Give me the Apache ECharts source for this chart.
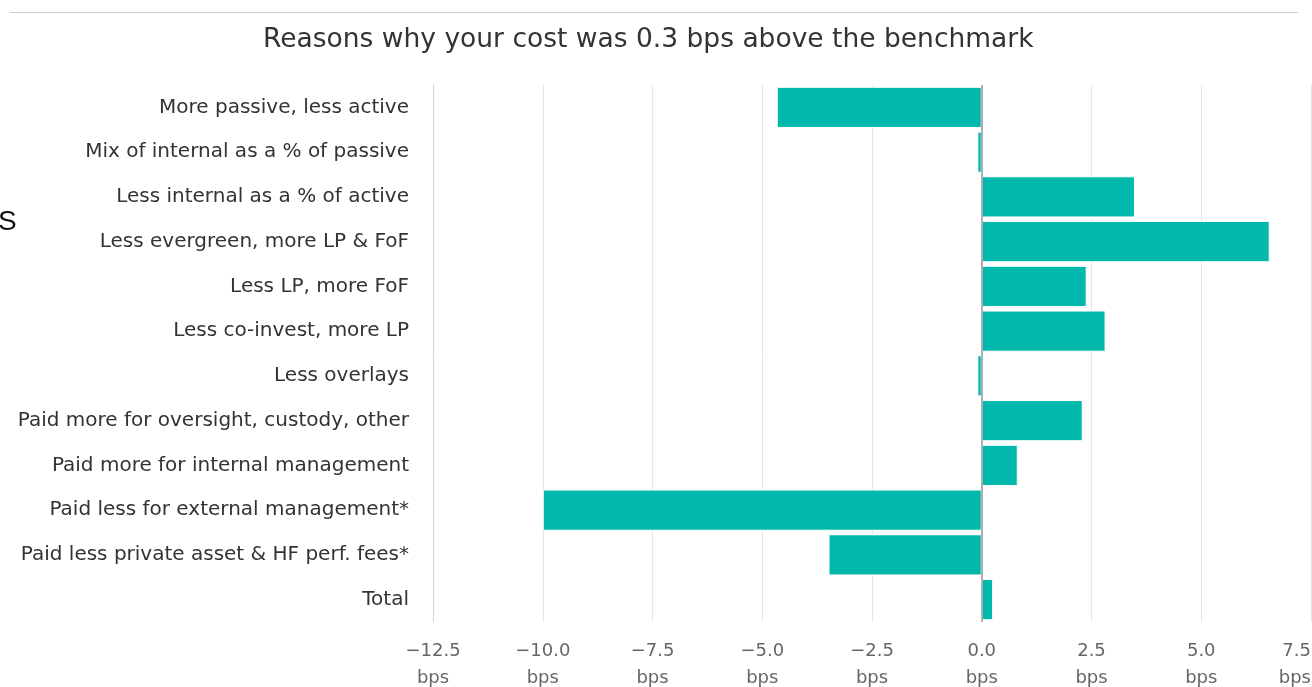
<!DOCTYPE html>
<html>
<head>
<meta charset="utf-8">
<script src="https://cdn.jsdelivr.net/npm/echarts@6/dist/echarts.min.js"></script>
<style>
html,body{margin:0;padding:0;background:#fff;}
#c{width:1312px;height:687px;}
</style>
</head>
<body>
<div id="c"></div>
<script>
const categories = [
  "More passive, less active",
  "Mix of internal as a % of passive",
  "Less internal as a % of active",
  "Less evergreen, more LP & FoF",
  "Less LP, more FoF",
  "Less co-invest, more LP",
  "Less overlays",
  "Paid more for oversight, custody, other",
  "Paid more for internal management",
  "Paid less for external management*",
  "Paid less private asset & HF perf. fees*",
  "Total"
];
const values = [-4.67, -0.1, 3.49, 6.56, 2.39, 2.82, -0.1, 2.30, 0.82, -10.0, -3.49, 0.26];
const titleText = "Reasons why your cost was 0.3 bps above the benchmark";
const axisUnit = "bps";

const chart = echarts.init(document.getElementById('c'), null, {renderer: 'canvas'});
const fontFam = "'DejaVu Sans', sans-serif";
chart.setOption({
  animation: false,
  backgroundColor: '#fff',
  title: {
    text: titleText,
    left: 263,
    top: 27,
    padding: 0,
    textStyle: {fontFamily: fontFam, fontSize: 26.5, fontWeight: 'normal', color: '#333333'}
  },
  graphic: [
    {type: 'line', shape: {x1: 10, y1: 12.5, x2: 1298, y2: 12.5}, style: {stroke: '#cccccc', lineWidth: 1}},
    {type: 'text', left: -2, top: 208, style: {text: 'S', fontFamily: "'Liberation Sans', sans-serif", fontSize: 28, fill: '#111'}}
  ],
  grid: {left: 433, right: 1, top: 85, bottom: 65, containLabel: false, outerBoundsMode: 'none'},
  xAxis: {
    type: 'value',
    min: -12.5,
    max: 7.5,
    interval: 2.5,
    axisLine: {show: false},
    axisTick: {show: false},
    splitLine: {show: true, lineStyle: {color: '#e6e6e6', width: 1}},
    axisLabel: {
      fontFamily: fontFam,
      fontSize: 18,
      color: '#666666',
      lineHeight: 27,
      margin: 16,
      alignMaxLabel: 'right',
      formatter: function (v) { return v.toFixed(1).replace('-', '\u2212') + '\n' + axisUnit; }
    }
  },
  yAxis: {
    type: 'category',
    data: categories,
    inverse: true,
    axisLine: {show: true, onZero: false, lineStyle: {color: '#ccd6eb'}},
    axisTick: {show: false},
    splitLine: {show: false},
    axisLabel: {fontFamily: fontFam, fontSize: 20, color: '#333333', margin: 24}
  },
  series: [{
    type: 'bar',
    data: values,
    barCategoryGap: '8%',
    itemStyle: {color: '#00b8ab', borderColor: '#ffffff', borderWidth: 1},
    markLine: {
      silent: true,
      symbol: 'none',
      label: {show: false},
      lineStyle: {color: '#999999', width: 1.5, type: 'solid'},
      data: [{xAxis: 0}]
    }
  }]
});
</script>
</body>
</html>
